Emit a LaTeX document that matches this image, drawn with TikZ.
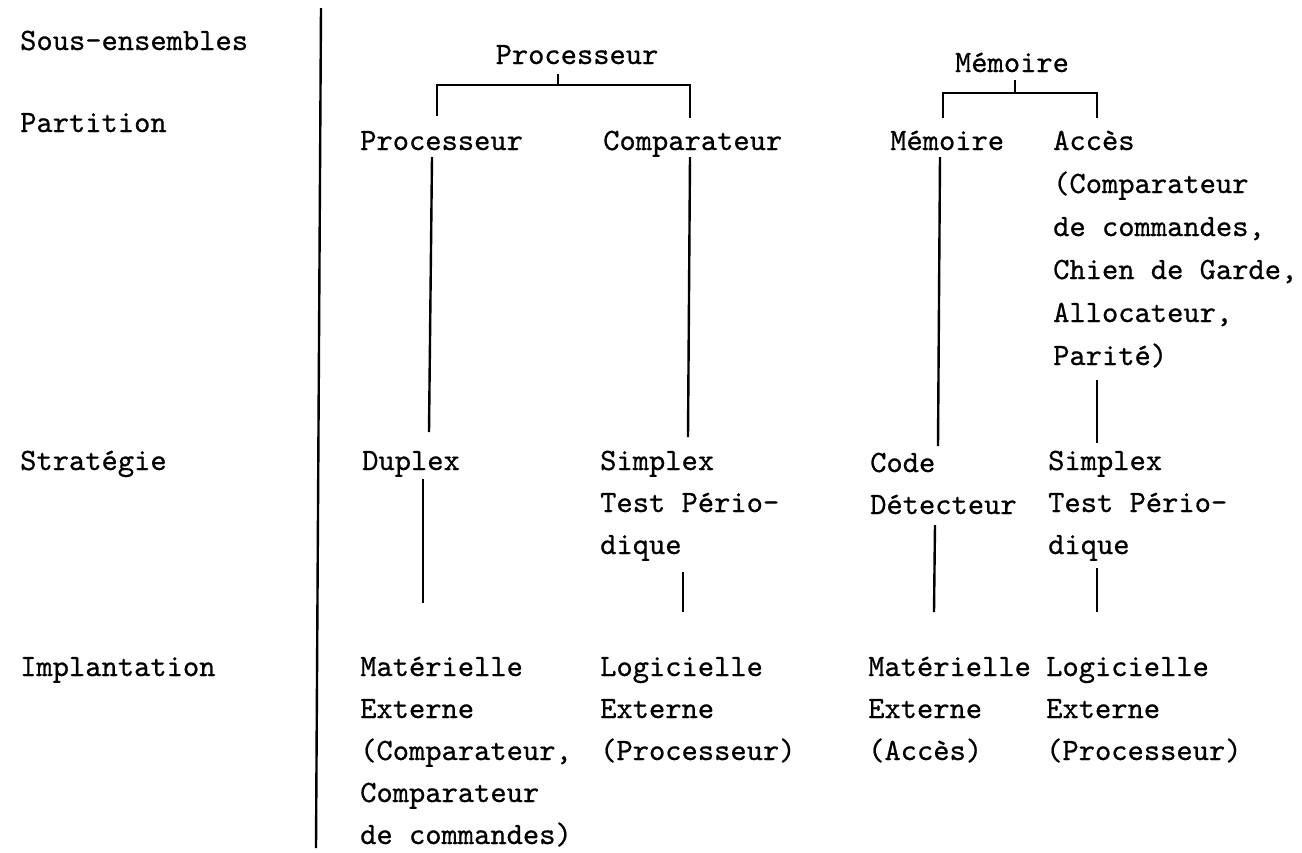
\documentclass[tikz,border=0pt]{standalone}
\usepackage{fontspec}
\newfontfamily\twfont{lmmono10-regular.otf}[FakeBold=0.6]
\usetikzlibrary{calc}
\newcommand{\mlines}[1]{\begin{tabular}[t]{@{}l@{}}#1\end{tabular}}
\begin{document}
\begin{tikzpicture}[x=1pt,y=-1pt,
  txt/.style={font=\twfont\fontsize{31}{42}\selectfont, inner sep=0pt, anchor=base west},
  txtb/.style={txt, font=\twfont\fontsize{31}{43}\selectfont},
  conn/.style={line width=2.4pt, line cap=butt}]
\useasboundingbox (0,0) rectangle (1302,852);
% row labels
\node[txt] (lSE) at (20,50) {Sous-ensembles};
\node[txt] (lPa) at (20,132) {Partition};
\node[txt] (lSt) at (20,470) {Stratégie};
\node[txt] (lIm) at (20,676) {Implantation};
% divider
\coordinate (dvT) at (321,8);
\coordinate (dvB) at (316,848);
\draw[conn] (dvT) -- (dvB);
% sub-assemblies
\node[txt,anchor=base] (P0) at (577,64) {Processeur};
\node[txt,anchor=base] (M0) at (1012,72) {Mémoire};
% partition
\node[txt] (pP) at (360,150) {Processeur};
\node[txt] (pC) at (603,150) {Comparateur};
\node[txt] (pM) at (890,150) {Mémoire};
\node[txtb] (pA) at (1053,150) {\mlines{Accès\\(Comparateur\\de commandes,\\Chien de Garde,\\Allocateur,\\Parité)}};
% strategy
\node[txt] (sD) at (362,470) {Duplex};
\node[txt] (sS) at (600,470) {\mlines{Simplex\\Test Pério-\\dique}};
\node[txt] (sC) at (870,472) {\mlines{Code\\Détecteur}};
\node[txt] (sS2) at (1048,470) {\mlines{Simplex\\Test Pério-\\dique}};
% implementation
\node[txt] (iM) at (360,676) {\mlines{Matérielle\\Externe\\(Comparateur,\\Comparateur\\de commandes)}};
\node[txt] (iL) at (600,676) {\mlines{Logicielle\\Externe\\(Processeur)}};
\node[txt] (iM2) at (868,676) {\mlines{Matérielle\\Externe\\(Accès)}};
\node[txt] (iL2) at (1046,676) {\mlines{Logicielle\\Externe\\(Processeur)}};
% brackets
\draw[conn] ($(P0.base)+(-19,10)$) -- ($(P0.base)+(-19,21)$);
\draw[conn] ($(pP.base west)+(77,-34)$) |- ($(P0.base)+(-19,21)$) -| ($(pC.base west)+(87,-32)$);
\draw[conn] ($(M0.base)+(3,8)$) -- ($(M0.base)+(3,21)$);
\draw[conn] ($(pM.base west)+(53,-32)$) |- ($(M0.base)+(3,21)$) -| ($(pA.base west)+(44,-32)$);
% vertical connectors
\draw[conn] ($(pP.base west)+(72,7)$) -- ($(sD.base west)+(67,-38)$);
\draw[conn] ($(pC.base west)+(87,7)$) -- ($(sS.base west)+(88,-33)$);
\draw[conn] ($(pM.base west)+(50,7)$) -- ($(sC.base west)+(68,-26)$);
\draw[conn] ($(pA.base west)+(44,230)$) -- ($(sS2.base west)+(49,-27)$);
\draw[conn] ($(sD.base west)+(61,9)$) -- ($(iM.base west)+(63,-73)$);
\draw[conn] ($(sS.base west)+(83,102)$) -- ($(iL.base west)+(83,-64)$);
\draw[conn] ($(sC.base west)+(65,53)$) -- ($(iM2.base west)+(66,-64)$);
\draw[conn] ($(sS2.base west)+(49,98)$) -- ($(iL2.base west)+(51,-64)$);
\end{tikzpicture}
\end{document}
